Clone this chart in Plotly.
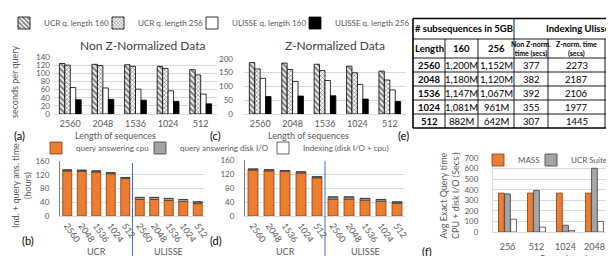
import plotly.graph_objects as go

W, H = 614, 256


def px(x):
    return x / W


def py(y):
    return 1 - y / H


# ---------------- data ----------------
seq_lengths = ["2560", "2048", "1536", "1024", "512"]
series_names = ["UCR q. length 160", "UCR q. length 256",
                "ULISSE q. length 160", "ULISSE q. length 256"]
# (a) Non Z-normalized data, seconds per query
ucr160_nonz = [124, 122, 121, 117, 109]
ucr256_nonz = [120, 119, 117, 112, 96]
ulisse160_nonz = [65, 64, 61, 57, 49]
ulisse256_nonz = [35, 36, 34, 31, 25]
# (c) Z-normalized data, seconds per query
ucr160_z = [186, 184, 180, 173, 155]
ucr256_z = [163, 161, 157, 149, 123]
ulisse160_z = [129, 118, 121, 107, 87]
ulisse256_z = [63, 65, 66, 54, 45]

# (b)/(d) index + query answering time (hours)
method_groups = ["UCR", "ULISSE"]
sub_lengths = seq_lengths + seq_lengths
stack_names = ["query answering cpu", "query answering disk I/O",
               "Indexing (disk I/O + cpu)"]
cpu_b = [131, 130, 128, 123, 109, 48, 48, 45, 42, 36]
disk_b = [3, 3, 3, 3, 3, 6, 6, 6, 6, 5]
index_b = [0, 0, 0, 0, 0, 0.1, 0.1, 0.1, 0.1, 0.1]
cpu_d = [131, 129, 127, 123, 109, 48, 48, 45, 42, 36]
disk_d = [3, 3, 3, 3, 3, 6, 6, 5, 5, 4]
index_d = [0, 0, 0, 0, 0, 0.6, 0.6, 0.6, 0.55, 0.4]

# (f) avg exact query time (secs)
query_lengths = ["256", "512", "1024", "2048", "4096"]
f_names = ["MASS", "UCR Suite", "ULISSE"]
mass_f = [368, 368, 368, 368, 368]
ucr_suite_f = [360, 392, 64, 603, 62]
ulisse_f = [120, 46, 15, 100, 22]

# (e) table
table_group_headers = ["# subsequences in 5GB", "Indexing Ulisse"]
table_col_headers = ["Length", "160", "256", "Non Z-norm.<br>time (secs)",
                     "Z-norm. time<br>(secs)", "#Envelopes"]
table_lengths = ["2560", "2048", "1536", "1024", "512"]
subseq_160 = ["1,200M", "1,180M", "1,147M", "1,081M", "882M"]
subseq_256 = ["1,152M", "1,120M", "1,067M", "961M", "642M"]
index_nonz_secs = ["377", "382", "392", "355", "307"]
index_z_secs = ["2273", "2187", "2106", "1977", "1445"]
envelopes = ["1.9M", "12.4M", "1.6M", "10.1M", "1.2M"]

# ---------------- styles ----------------
FONT = "Lato, Carlito, 'Liberation Sans', sans-serif"
GREY_TXT = "#595959"
ORANGE = "#ED7D31"
GREYBAR = "#A5A5A5"
GRID = "#D9D9D9"

fig = go.Figure()

pat_styles = [
    dict(color="white", line=dict(color="black", width=0.8),
         pattern=dict(shape="\\", fgcolor="black", bgcolor="white", size=4, solidity=0.55)),
    dict(color="white", line=dict(color="black", width=0.8),
         pattern=dict(shape="x", fgcolor="black", bgcolor="white", size=3, solidity=0.4)),
    dict(color="white", line=dict(color="black", width=0.8)),
    dict(color="black", line=dict(color="black", width=0.8)),
]

vals_a = [ucr160_nonz, ucr256_nonz, ulisse160_nonz, ulisse256_nonz]
vals_c = [ucr160_z, ucr256_z, ulisse160_z, ulisse256_z]
for i, (name, va, vc) in enumerate(zip(series_names, vals_a, vals_c)):
    lg = "legend" if i == 0 else f"legend{i + 1}"
    fig.add_trace(go.Bar(x=seq_lengths, y=va, name=name, marker=pat_styles[i],
                         xaxis="x", yaxis="y", legend=lg, showlegend=True))
    fig.add_trace(go.Bar(x=seq_lengths, y=vc, name=name, marker=pat_styles[i],
                         xaxis="x2", yaxis="y2", showlegend=False))

# (b)/(d) stacked using base
idx = list(range(len(sub_lengths)))
stack_styles = [
    dict(color=ORANGE, line=dict(color="#843C0C", width=0.8)),
    dict(color=GREYBAR, line=dict(color="#404040", width=0.8)),
    dict(color="white", line=dict(color="#404040", width=0.8)),
]
for panel, (cpu, disk, ind), xa, ya in [
    ("b", (cpu_b, disk_b, index_b), "x3", "y3"),
    ("d", (cpu_d, disk_d, index_d), "x4", "y4"),
]:
    bases = [[0] * len(cpu), cpu, [c + d for c, d in zip(cpu, disk)]]
    for k, (vals, base) in enumerate(zip((cpu, disk, ind), bases)):
        show = panel == "b"
        fig.add_trace(go.Bar(x=idx, y=vals, base=base, name=stack_names[k],
                             marker=stack_styles[k], width=0.62, offsetgroup=panel,
                             xaxis=xa, yaxis=ya, showlegend=show,
                             legend=f"legend{5 + k}"))

# (f) grouped
f_styles = [
    dict(color=ORANGE, line=dict(color="#843C0C", width=0.8)),
    dict(color=GREYBAR, line=dict(color="#404040", width=0.8)),
    dict(color="white", line=dict(color="#404040", width=0.8)),
]
f_offsets = [-0.31, -0.1, 0.11]
for k, vals in enumerate([mass_f, ucr_suite_f, ulisse_f]):
    fig.add_trace(go.Bar(x=list(range(len(query_lengths))), y=vals, name=f_names[k],
                         marker=f_styles[k], width=0.2, offset=f_offsets[k],
                         xaxis="x5", yaxis="y5", legend=f"legend{8 + k}"))

tickfont = dict(family=FONT, size=9, color=GREY_TXT)
ytickfont = dict(family=FONT, size=8, color=GREY_TXT)

layout = dict(
    width=W, height=H,
    margin=dict(l=0, r=0, t=0, b=0, autoexpand=False),
    paper_bgcolor="white", plot_bgcolor="white",
    barmode="group", bargap=0.33, bargroupgap=0,
    font=dict(family=FONT, size=9, color=GREY_TXT),
    # (a)
    xaxis=dict(domain=[px(46), px(209)], anchor="y", type="category",
               showline=True, linecolor=GRID, ticks="", tickfont=tickfont,
               ticklabelstandoff=1, fixedrange=True),
    yaxis=dict(domain=[py(106), py(49)], anchor="x", range=[0, 140], dtick=20,
               gridcolor=GRID, showline=False, tickfont=ytickfont, zeroline=False,
               ticklabelstandoff=3),
    # (c)
    xaxis2=dict(domain=[px(236), px(398)], anchor="y2", type="category",
                showline=True, linecolor=GRID, ticks="", tickfont=tickfont,
                ticklabelstandoff=1),
    yaxis2=dict(domain=[py(106), py(50.7)], anchor="x2", range=[0, 200], dtick=50,
                gridcolor=GRID, showline=False, tickfont=ytickfont, zeroline=False,
                ticklabelstandoff=10),
    # (b)
    xaxis3=dict(domain=[px(52), px(197)], anchor="y3", range=[-0.5, len(idx) - 0.5],
                tickvals=idx, ticktext=sub_lengths, tickangle=55, showline=True,
                linecolor=GRID, ticks="", tickfont=tickfont, showgrid=False,
                zeroline=False),
    yaxis3=dict(domain=[py(208), py(153)], anchor="x3", range=[0, 160], dtick=40,
                gridcolor="#D6DCE5", showline=True, linecolor="#7F7F7F",
                tickfont=ytickfont, zeroline=False, ticklabelstandoff=8),
    # (d)
    xaxis4=dict(domain=[px(237), px(397)], anchor="y4", range=[-0.5, len(idx) - 0.5],
                tickvals=idx, ticktext=sub_lengths, tickangle=55, showline=True,
                linecolor=GRID, ticks="", tickfont=tickfont, showgrid=False,
                zeroline=False),
    yaxis4=dict(domain=[py(208), py(152)], anchor="x4", range=[0, 160], dtick=40,
                gridcolor="#D6DCE5", showline=True, linecolor="#7F7F7F",
                tickfont=ytickfont, zeroline=False, ticklabelstandoff=8),
    # (f)
    xaxis5=dict(domain=[px(485), 1], anchor="y5", range=[-0.5, 3.95],
                tickvals=list(range(len(query_lengths))), ticktext=query_lengths,
                showline=True, linecolor=GRID, ticks="", tickfont=tickfont,
                showgrid=False, zeroline=False, ticklabelstandoff=6),
    yaxis5=dict(domain=[py(224), py(150)], anchor="x5", range=[0, 700], dtick=100,
                gridcolor=GRID, showline=True, linecolor=GRID, tickfont=ytickfont,
                zeroline=False, ticklabelstandoff=12),
)


def leg(x, y, size=8):
    return dict(x=px(x), y=py(y), xanchor="left", yanchor="middle",
                orientation="h", bgcolor="rgba(0,0,0,0)", borderwidth=0,
                font=dict(family=FONT, size=size, color=GREY_TXT), itemwidth=30,
                itemclick=False, itemdoubleclick=False)


layout["legend"] = leg(-4, 15)
layout["legend2"] = leg(90, 15)
layout["legend3"] = leg(184, 15)
layout["legend4"] = leg(287, 15)
layout["legend5"] = leg(28, 140)
layout["legend6"] = leg(132, 140)
layout["legend7"] = leg(255, 140)
layout["legend8"] = leg(470, 152)
layout["legend9"] = leg(523, 152)
layout["legend10"] = leg(592, 152)
fig.update_layout(**layout)

ann = []
shapes = []


def text(x, y, s, size=9, color=GREY_TXT, angle=0, bold=False, xanchor="center",
         xref="paper", yref="paper"):
    ann.append(dict(x=x if xref != "paper" else px(x), y=y if yref != "paper" else py(y),
                    xref=xref, yref=yref, text=f"<b>{s}</b>" if bold else s,
                    showarrow=False, textangle=angle, xanchor=xanchor, yanchor="middle",
                    font=dict(family=FONT, size=size, color=color)))


# titles
text(134, 37, "Non Z-Normalized Data", size=12, color="#404040")
text(327, 37, "Z-Normalized Data", size=12, color="#404040")
text(107, 127, "Length of sequences")
text(300, 127, "Length of sequences")
text(6, 74, "seconds per query", angle=-90)
# panel labels
for lab, x, y in [("(a)", 11, 127), ("(c)", 207, 127), ("(e)", 396, 127),
                  ("(b)", 20, 232), ("(d)", 208, 232), ("(f)", 419, 243)]:
    text(x, y, lab, size=11, color="black")

# (b)/(d) group labels and separators
n_ucr = len(seq_lengths)
for xa, ysep_top in [("x3", 155), ("x4", 153)]:
    text((n_ucr - 1) / 2, 243, method_groups[0], xref=xa)
    text(n_ucr + (n_ucr - 1) / 2, 243, method_groups[1], xref=xa)
    text(n_ucr - 0.5, 254, "Subsequences length", xref=xa)
    shapes.append(dict(type="line", xref=xa, yref="paper", x0=n_ucr - 0.5, x1=n_ucr - 0.5,
                       y0=0, y1=py(ysep_top), line=dict(color="#4472C4", width=1)))
text(13, 178, "Ind. + query ans. time<br>(hours)", angle=-90)
# (f)
text(441, 188, "Avg Exact Query time<br>CPU + disk I/O (Secs )", angle=-90)
text(557, 250, "Query length")
text(len(query_lengths) - 1, 237, query_lengths[-1], xref="x5")

# ---------------- table (e) ----------------
col_edges = [405, 437, 470, 506, 540, 597, 650]
row_edges = [10.5, 31, 50, 64, 78, 92, 106, 120]
lw = 0.9
for i, y in enumerate(row_edges):
    shapes.append(dict(type="line", xref="paper", yref="paper", x0=px(col_edges[0]),
                       x1=px(col_edges[-1]), y0=py(y), y1=py(y),
                       line=dict(color="black", width=1.6 if i in (0, len(row_edges) - 1) else lw)))
for j, x in enumerate(col_edges):
    top = row_edges[0] if j in (0, 3, len(col_edges) - 1) else row_edges[1]
    shapes.append(dict(type="line", xref="paper", yref="paper", x0=px(x), x1=px(x),
                       y0=py(top), y1=py(row_edges[-1]),
                       line=dict(color="black", width=1.6 if j == 0 else lw)))
hy = (row_edges[0] + row_edges[1]) / 2
text((col_edges[0] + col_edges[3]) / 2, hy, table_group_headers[0], size=9.5, color="black", bold=True)
text(col_edges[3] + 64, hy, table_group_headers[1], size=9.5, color="black", bold=True)
h2y = (row_edges[1] + row_edges[2]) / 2
for j, h in enumerate(table_col_headers):
    if j == len(table_col_headers) - 1:
        text(col_edges[j] + 3, h2y, h, size=9.5, color="black", bold=True, xanchor="left")
        continue
    cx = (col_edges[j] + col_edges[j + 1]) / 2
    sz = 7 if "<br>" in h else 9.5
    text(cx, h2y, h, size=sz, color="black", bold=True)
cols = [table_lengths, subseq_160, subseq_256, index_nonz_secs, index_z_secs, envelopes]
for r in range(len(table_lengths)):
    cy = (row_edges[2 + r] + row_edges[3 + r]) / 2
    for j, col in enumerate(cols):
        if j == len(cols) - 1:
            text(col_edges[j] + 7, cy, col[r], size=9.5, color="black", xanchor="left")
            continue
        cx = (col_edges[j] + col_edges[j + 1]) / 2
        text(cx, cy, col[r], size=9.5, color="black", bold=(j == 0))

fig.update_layout(annotations=ann, shapes=shapes)
fig.write_html("out.html")
